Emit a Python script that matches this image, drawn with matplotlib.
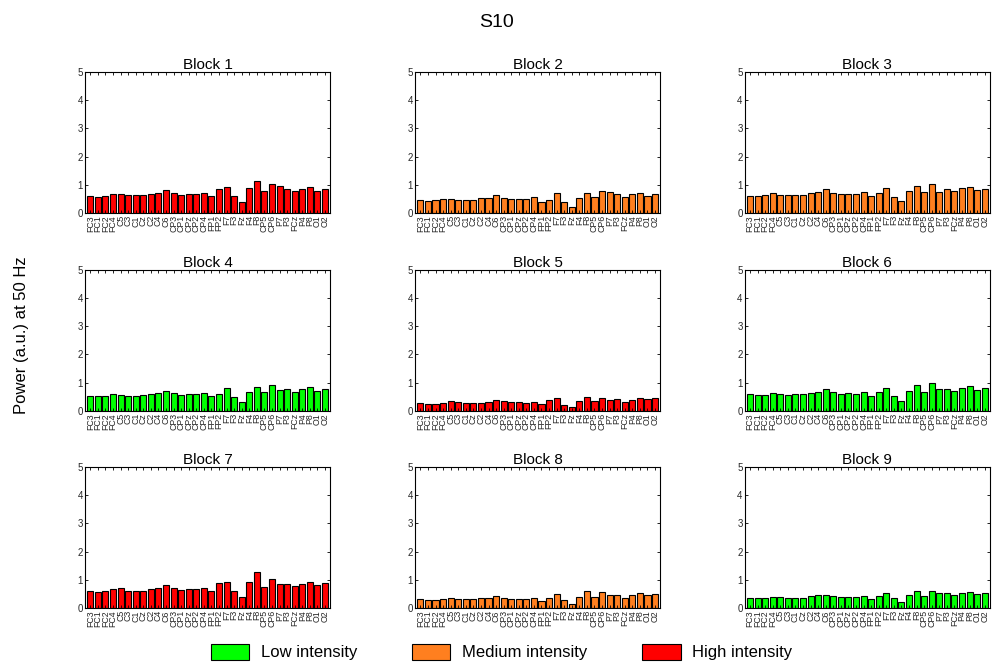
"""
Power at 50 Hz per channel for subject S10, nine blocks.
"""

import matplotlib
matplotlib.use("Agg")
import matplotlib.pyplot as plt
from matplotlib.patches import Patch
import numpy as np

plt.rcParams["font.family"] = ["Liberation Sans", "DejaVu Sans"]

channels = ["FC3", "FC1", "FC2", "FC4", "C5", "C3", "C1", "Cz", "C2", "C4", "C6",
            "CP3", "CP1", "CPz", "CP2", "CP4", "FP1", "FP2", "F7", "F3", "Fz", "F4",
            "F8", "CP5", "CP6", "P7", "P3", "FCz", "P4", "P8", "O1", "O2"]

block1 = [0.60, 0.58, 0.60, 0.69, 0.69, 0.63, 0.63, 0.63, 0.69, 0.73, 0.81, 0.71, 0.65, 0.67, 0.67, 0.72,
          0.61, 0.87, 0.93, 0.59, 0.40, 0.89, 1.14, 0.77, 1.03, 0.95, 0.86, 0.78, 0.86, 0.93, 0.80, 0.87]
block2 = [0.45, 0.43, 0.45, 0.50, 0.50, 0.46, 0.46, 0.48, 0.52, 0.55, 0.63, 0.54, 0.50, 0.50, 0.50, 0.56,
          0.39, 0.46, 0.70, 0.39, 0.21, 0.54, 0.73, 0.57, 0.79, 0.74, 0.67, 0.56, 0.67, 0.71, 0.62, 0.69]
block3 = [0.62, 0.60, 0.64, 0.71, 0.63, 0.63, 0.65, 0.65, 0.71, 0.76, 0.87, 0.72, 0.67, 0.69, 0.68, 0.76,
          0.62, 0.72, 0.90, 0.58, 0.42, 0.80, 0.97, 0.74, 1.04, 0.76, 0.87, 0.80, 0.88, 0.93, 0.81, 0.87]
block4 = [0.53, 0.52, 0.52, 0.60, 0.56, 0.54, 0.54, 0.55, 0.60, 0.64, 0.71, 0.64, 0.56, 0.59, 0.59, 0.62,
          0.52, 0.60, 0.80, 0.51, 0.32, 0.66, 0.84, 0.66, 0.92, 0.73, 0.76, 0.68, 0.76, 0.84, 0.72, 0.78]
block5 = [0.29, 0.26, 0.26, 0.29, 0.36, 0.31, 0.29, 0.28, 0.29, 0.31, 0.39, 0.34, 0.31, 0.31, 0.27, 0.33,
          0.24, 0.38, 0.44, 0.22, 0.14, 0.34, 0.51, 0.35, 0.45, 0.39, 0.41, 0.31, 0.39, 0.45, 0.41, 0.44]
block6 = [0.59, 0.55, 0.56, 0.62, 0.61, 0.56, 0.59, 0.59, 0.64, 0.66, 0.76, 0.66, 0.60, 0.62, 0.61, 0.68,
          0.54, 0.66, 0.82, 0.52, 0.35, 0.72, 0.92, 0.68, 0.98, 0.76, 0.79, 0.71, 0.80, 0.87, 0.73, 0.81]
block7 = [0.61, 0.58, 0.60, 0.66, 0.71, 0.60, 0.60, 0.60, 0.68, 0.71, 0.80, 0.71, 0.65, 0.67, 0.66, 0.72,
          0.60, 0.89, 0.93, 0.61, 0.40, 0.91, 1.29, 0.76, 1.02, 0.85, 0.86, 0.78, 0.86, 0.94, 0.80, 0.89]
block8 = [0.31, 0.28, 0.28, 0.33, 0.35, 0.32, 0.31, 0.31, 0.35, 0.36, 0.42, 0.35, 0.33, 0.33, 0.33, 0.35,
          0.25, 0.35, 0.49, 0.28, 0.13, 0.39, 0.59, 0.38, 0.56, 0.47, 0.46, 0.36, 0.46, 0.52, 0.46, 0.49]
block9 = [0.35, 0.35, 0.35, 0.40, 0.40, 0.36, 0.36, 0.36, 0.42, 0.45, 0.48, 0.42, 0.39, 0.40, 0.40, 0.42,
          0.32, 0.42, 0.54, 0.35, 0.20, 0.45, 0.60, 0.44, 0.62, 0.54, 0.52, 0.47, 0.53, 0.56, 0.51, 0.54]

blocks = [block1, block2, block3, block4, block5, block6, block7, block8, block9]
intensity = ["High", "Medium", "Medium", "Low", "High", "Low", "High", "Medium", "Low"]

colors = {"Low": "#00ff00", "Medium": "#ff7f1f", "High": "#ff0000"}

fig = plt.figure(figsize=(9.93, 6.66), dpi=100)

lefts = [0.0856, 0.418, 0.750]
bottoms = [0.680, 0.383, 0.087]
width, height = 0.247, 0.212

x = np.arange(1, len(channels) + 1)
for i, vals in enumerate(blocks):
    r, c = divmod(i, 3)
    ax = fig.add_axes([lefts[c], bottoms[r], width, height])
    ax.bar(x, vals, width=0.8, color=colors[intensity[i]], edgecolor="black", linewidth=0.8)
    ax.set_xlim(0.3, len(channels) + 0.7)
    ax.set_ylim(0, 5)
    ax.set_yticks([0, 1, 2, 3, 4, 5])
    ax.set_xticks(x)
    ax.set_xticklabels(channels, rotation=90, fontsize=6.3, color="#262626")
    ax.tick_params(axis="y", labelsize=7, labelcolor="#262626")
    ax.tick_params(direction="in", top=True, right=True, length=2.5, width=0.6, pad=1.5)
    for s in ax.spines.values():
        s.set_linewidth(0.8)
    ax.set_title(f"Block {i + 1}", fontsize=11, pad=2)

fig.text(0.5, 0.966, "S10", ha="center", va="center", fontsize=14)
fig.text(0.022, 0.497, "Power (a.u.) at 50 Hz", ha="center", va="center", rotation=90, fontsize=12)

handles = [Patch(facecolor=colors[k], edgecolor="black", linewidth=0.8) for k in ["Low", "Medium", "High"]]
fig.legend(handles, ["Low intensity", "Medium intensity", "High intensity"],
           loc="center", bbox_to_anchor=(0.505, 0.021), ncol=3, frameon=False,
           fontsize=12, handlelength=2.3, handleheight=1.1, columnspacing=3.3, handletextpad=0.7)

fig.savefig("out.png", dpi=100)
